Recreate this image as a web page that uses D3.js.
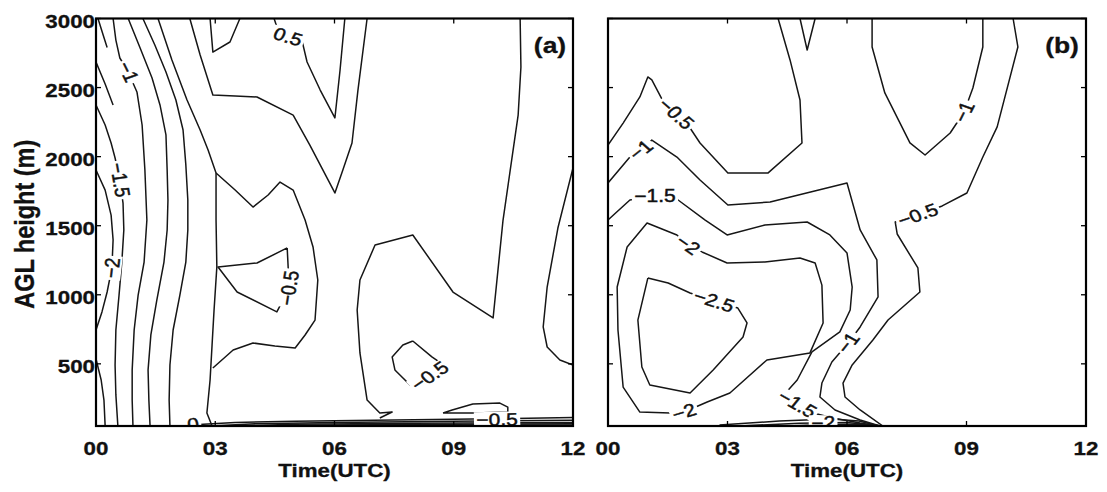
<!DOCTYPE html>
<html>
<head>
<meta charset="utf-8">
<script src="https://cdn.jsdelivr.net/npm/d3@7"></script>
<style>
  html, body { margin: 0; padding: 0; background: #fff; }
  svg { display: block; }
</style>
</head>
<body>
<svg id="fig" width="1107" height="492"></svg>
<script>
// ---- axes ----
const timeTicks = [0, 3, 6, 9, 12];
const timeTickLabels = ["00", "03", "06", "09", "12"];
const heightTicks = [500, 1000, 1500, 2000, 2500, 3000];
const timeDomain = [0, 12];
const heightDomain = [50, 3000];

// ---- panel (a): contour lines, [hour UTC, height m] ----
const aM25top = [[0.05,3000],[0.18,2880],[0.28,2790]];
const aM2top = [[0,2685],[0.23,2526],[0.43,2374]];
const aM2 = [[0,1903],[0.23,1758],[0.38,1577],[0.43,1397],[0.40,1194],[0.28,1020],[0.15,876],[0,745]];
const aM2low = [[0,535],[0.13,383],[0.20,238],[0.23,50]];
const aM15 = [[0,2374],[0.23,2229],[0.38,2099],[0.48,1990],[0.60,1831],[0.68,1664],[0.70,1469],[0.65,1237],[0.58,998],[0.50,745],[0.48,492],[0.50,275],[0.55,50]];
const aM1 = [[0.43,3000],[0.50,2844],[0.60,2714],[0.81,2613],[1.03,2468],[1.16,2229],[1.23,1903],[1.28,1541],[1.21,1237],[1.06,998],[0.96,745],[0.91,456],[0.91,238],[0.93,50]];
const aM05 = [[0.81,3000],[1.11,2786],[1.41,2569],[1.61,2374],[1.76,2157],[1.79,1903],[1.81,1686],[1.79,1469],[1.71,1237],[1.53,962],[1.38,709],[1.31,456],[1.33,238],[1.36,50]];
const aZero = [[1.18,3000],[1.48,2808],[1.76,2613],[2.01,2410],[2.19,2193],[2.26,1940],[2.31,1686],[2.31,1469],[2.26,1237],[2.11,998],[1.94,745],[1.86,492],[1.84,238],[1.86,50]];
const aP05 = [[1.56,3000],[1.91,2700],[2.29,2410],[2.62,2193],[2.82,2048],[3.02,1882],[3.02,1541],[3.04,1201],[2.97,890],[2.92,636],[2.87,383],[2.79,144],[2.92,50]];
const aP05b = [[3.02,1882],[3.50,1758],[3.95,1635],[4.33,1722],[4.63,1816],[4.96,1758],[5.26,1541],[5.46,1346],[5.58,1107],[5.51,817],[5.26,709],[5.01,615],[4.50,629],[3.95,651],[3.45,600],[2.94,470]];
const aNotch = [[2.36,3000],[2.62,2736],[2.94,2446],[3.50,2439],[4.05,2432],[4.96,2301],[5.38,2084],[6.01,1737],[6.21,1903],[6.44,2099],[6.59,2482],[6.82,3000]];
const aTopV = [[2.87,3000],[2.94,2757],[3.37,2830],[3.62,3000]];
const aTopLobe = [[4.48,3000],[4.60,2895],[4.83,2866],[5.18,2844],[5.31,2685],[5.64,2482],[6.01,2280],[6.14,2627],[6.26,3000]];
const aLoopMid = [[4.81,1339],[4.05,1230],[3.07,1201],[3.55,1020],[4.55,876],[4.86,1049],[4.81,1339]];
const aEast = [[10.67,3000],[10.69,2649],[10.62,2301],[10.24,1541],[9.99,832],[8.98,1020],[7.97,1433],[7.02,1360],[6.64,1107],[6.57,890],[6.64,579],[6.82,238],[7.14,144],[7.45,151],[7.14,108]];
const aEdge = [[12,1918],[11.62,1483],[11.35,1056],[11.25,767],[11.35,622],[11.67,528],[12,492]];
const aLoopLow = [[7.97,665],[8.45,550],[8.78,485],[8.40,412],[8.03,340],[7.90,347],[7.52,456],[7.45,550],[7.72,636],[7.97,665]];
const aLens = [[8.73,144],[8.96,166],[9.48,209],[10.16,216],[10.36,187],[10.36,151],[9.53,144],[8.73,144]];
const aGround1 = [[2.2,50],[2.7,62],[3.5,75],[5,85],[7,92],[9,98],[10.5,105],[12,112]];
const aGround2 = [[2.9,50],[4,66],[6,76],[9,84],[12,92]];
const aGround3 = [[3.4,50],[5,62],[8,70],[12,76]];
const aGround4 = [[4.2,50],[6,57],[9,62],[12,66]];
const aGround5 = [[5,50],[8,55],[12,58]];

const panelALabels = [
  { text: "\u22121",   line: "aM1",      t: 0.81,  h: 2613 },
  { text: "\u22121.5", line: "aM15",     t: 0.60,  h: 1831 },
  { text: "\u22122",   line: "aM2",      t: 0.40,  h: 1194 },
  { text: "0.5",       line: "aTopLobe", t: 4.83,  h: 2866 },
  { text: "\u22120.5", line: "aLoopMid", t: 4.86,  h: 1049 },
  { text: "\u22120.5", line: "aLoopLow", t: 8.40,  h: 412 },
  { text: "0",         line: "aGround1", t: 2.44,  h: 62 },
  { text: "\u22120.5", line: "aGround1", t: 10.09, h: 95 }
];

// ---- panel (b): contour lines, [hour UTC, height m] ----
const bM05 = [[0,2084],[0.38,2243],[0.80,2432],[1.00,2577],[1.10,2555],[1.43,2374],[1.71,2309],[2.01,2229],[2.31,2099],[3.01,1882],[4.02,1882],[4.87,2099],[4.82,2410],[4.57,2700],[4.27,3000]];
const bTopV = [[4.82,3000],[5.00,2772],[5.20,3000]];
const bM1 = [[0,1809],[0.55,1997],[0.83,2048],[1.10,2120],[1.73,1997],[2.31,1831],[3.01,1650],[4.07,1672],[6.00,1809],[6.33,1469],[6.75,1252],[6.78,984],[6.33,767],[6.03,651],[5.62,513],[5.37,361],[5.32,260],[5.70,166],[6.33,93],[6.83,50]];
const bM15 = [[0,1541],[0.55,1686],[1.18,1715],[1.76,1686],[2.44,1541],[2.99,1433],[3.94,1505],[5.00,1527],[5.57,1433],[6.00,1303],[6.13,1056],[6.08,890],[5.82,731],[5.12,586],[4.75,383],[4.39,267],[4.75,209],[5.15,144],[5.65,108],[6.33,71],[6.78,50]];
const bM2 = [[2.36,1310],[2.99,1230],[3.94,1237],[4.82,1266],[5.20,1230],[5.37,1070],[5.40,796],[5.07,579],[3.99,528],[3.06,289],[2.49,224],[1.91,151],[1.56,144],[0.80,151],[0.38,332],[0.25,745],[0.23,1056],[0.48,1346],[0.98,1520],[1.73,1433],[2.01,1360],[2.36,1310]];
const bM25 = [[1.00,1121],[1.51,1085],[2.06,1013],[2.66,955],[3.26,904],[3.49,796],[3.39,694],[2.64,456],[2.06,289],[1.05,347],[0.85,477],[0.75,817],[1.00,1121]];
const bM1top = [[6.63,3000],[6.63,2794],[6.95,2461],[7.58,2099],[7.96,2012],[8.59,2171],[8.94,2323],[9.16,2497],[9.41,2794],[9.41,3000]];
const bM05east = [[10.17,3000],[10.29,2794],[9.77,2215],[9.41,1997],[9.01,1737],[8.39,1643],[7.78,1577],[7.21,1527],[7.26,1440],[7.78,1194],[7.83,1020],[7.03,817],[6.65,673],[6.13,492],[5.90,361],[5.95,260],[6.33,166],[6.90,50]];
const bGround1 = [[2.8,57],[4.3,86],[5.6,100],[6.3,86],[6.8,50]];
const bGround2 = [[3.3,50],[4.8,70],[6.0,75],[6.7,55],[6.9,50]];
const bGround3 = [[4.5,50],[5.5,60],[6.3,62],[6.9,50]];

const panelBLabels = [
  { text: "\u22120.5", line: "bM05",     t: 1.71, h: 2309 },
  { text: "\u22121",   line: "bM1",      t: 0.83, h: 2048 },
  { text: "\u22121",   line: "bM1",      t: 6.03, h: 651 },
  { text: "\u22121.5", line: "bM15",     t: 1.18, h: 1715 },
  { text: "\u22121.5", line: "bM15",     t: 4.75, h: 209 },
  { text: "\u22122",   line: "bM2",      t: 2.01, h: 1360 },
  { text: "\u22122",   line: "bM2",      t: 1.91, h: 151 },
  { text: "\u22122.5", line: "bM25",     t: 2.66, h: 955 },
  { text: "\u22121",   line: "bM1top",   t: 8.94, h: 2323 },
  { text: "\u22120.5", line: "bM05east", t: 7.78, h: 1577 },
  { text: "\u22122",   line: "bGround1", t: 5.40, h: 70 }
];

const panelALines = { aM25top, aM2top, aM2, aM2low, aM15, aM1, aM05, aZero, aP05, aP05b, aNotch, aTopV, aTopLobe,
                      aLoopMid, aEast, aEdge, aLoopLow, aLens,
                      aGround1, aGround2, aGround3, aGround4, aGround5 };
const panelBLines = { bM05, bTopV, bM1, bM15, bM2, bM25, bM1top, bM05east, bGround1, bGround2, bGround3 };

// ---- drawing ----
const STRETCH = 1.2;           // glyphs are drawn slightly wide
const FONT = "'Liberation Sans', Arial, Helvetica, sans-serif";
const plotTop = 18.5, plotBottom = 426;
const svg = d3.select("#fig");
const defs = svg.append("defs");
const y = d3.scaleLinear().domain(heightDomain).range([plotBottom, plotTop]);

const panels = [
  { id: "a", left: 96,  right: 573,  lines: panelALines, labels: panelALabels, tag: "(a)", tagX: 550,  showY: true },
  { id: "b", left: 608, right: 1086, lines: panelBLines, labels: panelBLabels, tag: "(b)", tagX: 1062, showY: false }
];

function stretchedText(parent, px, py, rot) {
  return parent.append("g")
    .attr("transform", `translate(${px},${py}) scale(${STRETCH},1)` + (rot ? ` rotate(${rot})` : ""));
}

panels.forEach(p => {
  const x = d3.scaleLinear().domain(timeDomain).range([p.left, p.right]);
  const line = d3.line().x(d => x(d[0])).y(d => y(d[1]));

  defs.append("clipPath").attr("id", "clip-" + p.id)
    .append("rect").attr("x", p.left).attr("y", plotTop)
    .attr("width", p.right - p.left).attr("height", plotBottom - plotTop);

  const plot = svg.append("g").attr("clip-path", `url(#clip-${p.id})`);

  Object.entries(p.lines).forEach(([name, pts]) => {
    plot.append("path")
      .attr("class", "contour " + name)
      .attr("d", line(pts))
      .attr("fill", "none")
      .attr("stroke", "#161616")
      .attr("stroke-width", 1.5)
      .attr("stroke-linejoin", "round");
  });

  // inline contour labels, oriented along their line
  p.labels.forEach(lb => {
    const pts = p.lines[lb.line].map(d => [x(d[0]), y(d[1])]);
    const cx = x(lb.t), cy = y(lb.h);
    let bi = 0, bd = Infinity;
    pts.forEach((q, i) => {
      const dd = (q[0] - cx) ** 2 + (q[1] - cy) ** 2;
      if (dd < bd) { bd = dd; bi = i; }
    });
    const a = pts[Math.max(0, bi - 1)], b = pts[Math.min(pts.length - 1, bi + 1)];
    let ang = Math.atan2(b[1] - a[1], (b[0] - a[0]) / STRETCH) * 180 / Math.PI;
    if (ang > 90) ang -= 180;
    if (ang <= -90) ang += 180;
    const g = stretchedText(plot, cx, cy, ang);
    const txt = g.append("text")
      .attr("text-anchor", "middle")
      .attr("dominant-baseline", "central")
      .attr("font-family", FONT)
      .attr("font-size", 17.5)
      .attr("fill", "#111")
      .attr("stroke", "#111")
      .attr("stroke-width", 0.45)
      .text(lb.text);
    const bb = txt.node().getBBox();
    g.insert("rect", "text")
      .attr("x", bb.x - 2).attr("y", bb.y + 1.5)
      .attr("width", bb.width + 4).attr("height", bb.height - 3)
      .attr("fill", "#fff");
  });

  // frame
  svg.append("rect")
    .attr("x", p.left).attr("y", plotTop)
    .attr("width", p.right - p.left).attr("height", plotBottom - plotTop)
    .attr("fill", "none").attr("stroke", "#000").attr("stroke-width", 2.2);

  // inward ticks on all four sides
  const tickLen = 5;
  const ticks = svg.append("g").attr("stroke", "#000").attr("stroke-width", 1.3);
  timeTicks.forEach(t => {
    ticks.append("line").attr("x1", x(t)).attr("x2", x(t)).attr("y1", plotBottom).attr("y2", plotBottom - tickLen);
    ticks.append("line").attr("x1", x(t)).attr("x2", x(t)).attr("y1", plotTop).attr("y2", plotTop + tickLen);
  });
  heightTicks.forEach(h => {
    ticks.append("line").attr("x1", p.left).attr("x2", p.left + tickLen).attr("y1", y(h)).attr("y2", y(h));
    ticks.append("line").attr("x1", p.right).attr("x2", p.right - tickLen).attr("y1", y(h)).attr("y2", y(h));
  });

  const boldText = sel => sel
    .attr("font-family", FONT).attr("font-weight", "bold")
    .attr("fill", "#111").attr("stroke", "#111").attr("stroke-width", 0.3);

  // time tick labels
  timeTicks.forEach((t, i) => {
    stretchedText(svg, x(t), 455).append("text")
      .attr("text-anchor", "middle").attr("font-size", 18.6)
      .call(boldText)
      .text(timeTickLabels[i]);
  });

  // x-axis title
  stretchedText(svg, (p.left + p.right) / 2, 477).append("text")
    .attr("text-anchor", "middle").attr("font-size", 18.6)
    .call(boldText)
    .text("Time(UTC)");

  // height tick labels and title (left panel only)
  if (p.showY) {
    heightTicks.forEach(h => {
      stretchedText(svg, p.left - 1, y(h) + 9.6).append("text")
        .attr("text-anchor", "end").attr("font-size", 18.6)
        .call(boldText)
        .text(h);
    });
    stretchedText(svg, 24, (plotTop + plotBottom) / 2 + 2, -90).append("text")
      .attr("text-anchor", "middle")
      .attr("dominant-baseline", "central").attr("font-size", 23.5)
      .call(boldText)
      .text("AGL height (m)");
  }

  // panel tag
  stretchedText(svg, p.tagX, 53).append("text")
    .attr("text-anchor", "middle").attr("font-size", 22)
    .call(boldText)
    .text(p.tag);
});
</script>
</body>
</html>
